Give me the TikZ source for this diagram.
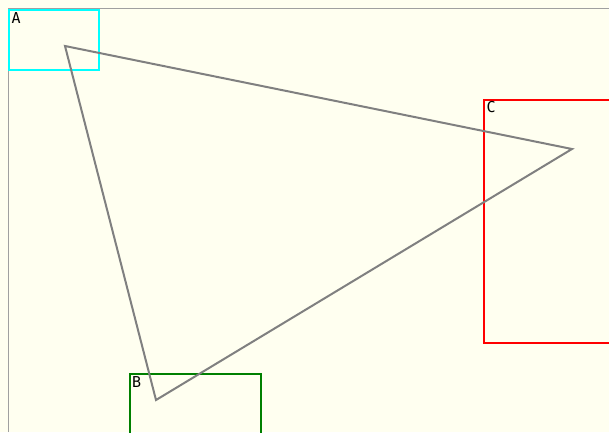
\documentclass[tikz,border=0pt]{standalone}
\usepackage{fontspec}
\newfontfamily\labfont{DejaVu Sans Mono}
\definecolor{bgcol}{HTML}{FFFFF0}
\definecolor{bordercol}{HTML}{A0A0A0}
\definecolor{tricol}{HTML}{808080}
\definecolor{boxgreen}{HTML}{008000}
\definecolor{boxcyan}{HTML}{00FFFF}
\definecolor{boxred}{HTML}{FF0000}
\begin{document}
\begin{tikzpicture}[x=1pt,y=-1pt,
  region/.style={draw, line width=2pt, inner sep=0pt, outer sep=0pt, anchor=north west},
  lab/.style={font=\labfont\fontsize{15}{16}\selectfont, inner sep=0pt, outer sep=0pt, anchor=north west, text height=11pt, text depth=0pt},
  edge/.style={draw=tricol, line width=2pt, line join=miter}]
\useasboundingbox (0,0) rectangle (609,432);
\clip (0,0) rectangle (609,432);
\fill[bgcol] (0,0) rectangle (609,432);
\draw[bordercol, line width=1pt] (8.5,432) -- (8.5,8.5) -- (609,8.5);
% region boxes
\node[region, draw=boxcyan, minimum width=90pt, minimum height=60pt] (boxA) at (9,10) {};
\node[region, draw=boxred, minimum width=140pt, minimum height=242.5pt] (boxC) at (483.5,100) {};
\node[region, draw=boxgreen, minimum width=131.5pt, minimum height=70pt] (boxB) at (129.5,374) {};
% labels
\node[lab] (labA) at (11.5,12) {A};
\node[lab] (labC) at (486.5,101.5) {C};
\node[lab] (labB) at (132,376) {B};
% triangle
\coordinate (pA) at (65,46);
\coordinate (pC) at (572,149);
\coordinate (pB) at (156,400);
\draw[edge] (pA) -- (pC) -- (pB) -- cycle;
\end{tikzpicture}
\end{document}
